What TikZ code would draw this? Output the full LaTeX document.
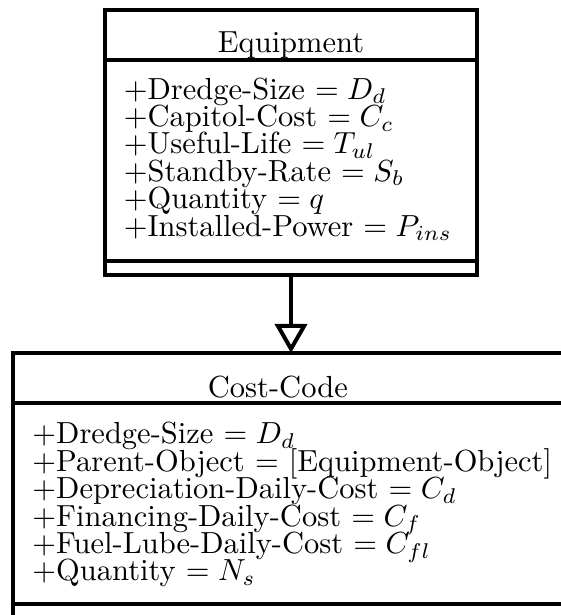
\documentclass[tikz,border=0pt]{standalone}
\usepackage{tikz}
\usetikzlibrary{arrows.meta,positioning}
\tikzset{
  classtitle/.style={draw=black, line width=1.3pt, rectangle, minimum height=16.3pt, inner sep=0pt, outer sep=0pt},
  classbody/.style={draw=black, line width=1.3pt, rectangle, minimum height=66pt, inner sep=0pt, outer sep=0pt},
  classfoot/.style={draw=black, line width=1.3pt, rectangle, minimum height=4.6pt, inner sep=0pt, outer sep=0pt},
  classname/.style={anchor=base, inner sep=0pt},
  attrlist/.style={anchor=north west, align=left, inner sep=0pt, font={\fontsize{10}{9}\selectfont\lineskiplimit=-10pt}},
  inherit/.style={-{Triangle[open, length=9.5pt, width=10.5pt]}, line width=1.3pt, draw=black}
}

\begin{document}
\begin{tikzpicture}[node distance=0pt]
  \useasboundingbox (0,0) rectangle (183.9pt,-201.6pt);
  % Equipment class
  \node[classtitle, minimum width=122pt, anchor=north] (eqtitle) at (95.4pt,-3.3pt) {};
  \node[classbody, minimum width=122pt, below=of eqtitle] (eqbody) {};
  \node[classfoot, minimum width=122pt, below=of eqbody] (eqfoot) {};
  \node[classname] (eqname) at ([yshift=2.3pt]eqtitle.south) {Equipment};
  \node[attrlist] (eqattr) at ([shift={(6pt,-5.6pt)}]eqbody.north west) {%
    +Dredge-Size $= D_d$\\
    +Capitol-Cost $= C_c$\\
    +Useful-Life $= T_{ul}$\\
    +Standby-Rate $= S_b$\\
    +Quantity $= q$\\
    +Installed-Power $= P_{ins}$};
  % Cost-Code class
  \node[classtitle, minimum width=182.3pt, below=25.5pt of eqfoot] (cctitle) {};
  \node[classbody, minimum width=182.3pt, below=of cctitle] (ccbody) {};
  \node[classfoot, minimum width=182.3pt, below=of ccbody] (ccfoot) {};
  \node[classname] (ccname) at ([xshift=-4.3pt, yshift=1.8pt]cctitle.south) {Cost-Code};
  \node[attrlist] (ccattr) at ([shift={(6.2pt,-6.2pt)}]ccbody.north west) {%
    +Dredge-Size $= D_d$\\
    +Parent-Object $=$ [Equipment-Object]\\
    +Depreciation-Daily-Cost $= C_d$\\
    +Financing-Daily-Cost $= C_f$\\
    +Fuel-Lube-Daily-Cost $= C_{fl}$\\
    +Quantity $= N_s$};
  % generalisation
  \draw[inherit] (eqfoot) -- (cctitle);
\end{tikzpicture}
\end{document}
